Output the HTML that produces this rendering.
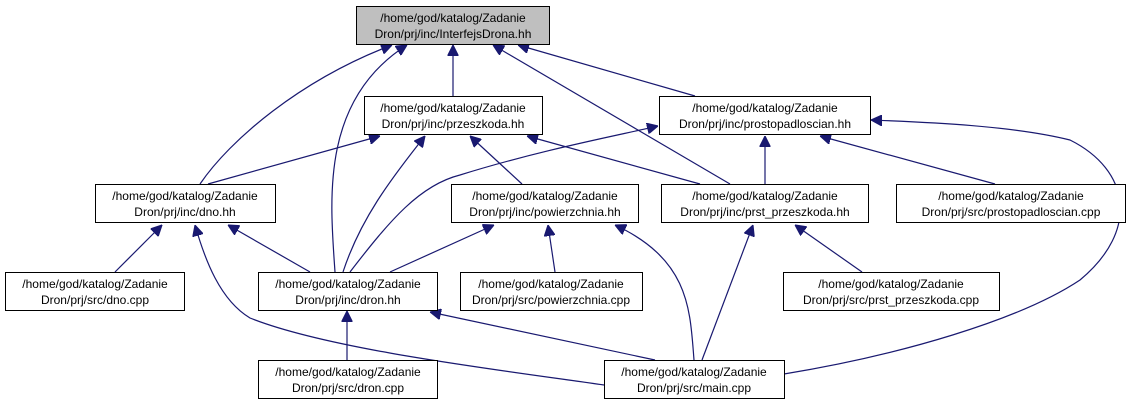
<!DOCTYPE html>
<html><head><meta charset="utf-8"><style>
html,body{margin:0;padding:0;background:#fff;}
svg{display:block;}
text{font-family:"Liberation Sans",sans-serif;font-size:12px;fill:#000;}
</style></head><body>
<svg width="1136" height="409" viewBox="0 0 1136 409" xmlns="http://www.w3.org/2000/svg">
<defs>
<marker id="a" viewBox="0 0 10 10" refX="10" refY="5" markerWidth="11" markerHeight="11" markerUnits="userSpaceOnUse" orient="auto">
<path d="M0,0 L10,5 L0,10 z" fill="#191970" stroke="#191970"/>
</marker>
</defs>
<g fill="none" stroke="#191970" stroke-width="1.2" marker-end="url(#a)">
<path d="M200,184 C230,140 300,80 392,45"/>
<path d="M335,272 C330,200 320,100 407,45"/>
<path d="M453,96 L453,45"/>
<path d="M730,184 L493,45"/>
<path d="M695,96 L518,45"/>
<path d="M208,184 L380,136"/>
<path d="M343,272 C360,220 390,180 425,136"/>
<path d="M522,184 L470,136"/>
<path d="M700,184 L527,136"/>
<path d="M350,272 C390,220 420,185 460,175 C540,150 620,135 658,126"/>
<path d="M765,184 L765,136"/>
<path d="M995,184 L820,136"/>
<path d="M784,374 C900,355 1020,320 1080,280 C1140,230 1130,170 1070,140 C1010,125 920,122 871,120"/>
<path d="M115,272 L162,225"/>
<path d="M310,272 L228,225"/>
<path d="M604,385 C500,370 330,350 250,318 C220,300 205,260 195,225"/>
<path d="M390,272 L494,225"/>
<path d="M555,272 L548,225"/>
<path d="M694,360 C690,310 690,260 615,225"/>
<path d="M862,272 L795,225"/>
<path d="M702,360 L753,225"/>
<path d="M347,360 L347,311"/>
<path d="M655,360 L430,312"/>
</g>
<g stroke="#000" stroke-width="1" fill="#fff">
<rect x="356.5" y="6.5" width="193" height="38" fill="#bfbfbf"/>
<rect x="364.5" y="96.5" width="178" height="38"/>
<rect x="659.5" y="96.5" width="211" height="38"/>
<rect x="95.5" y="184.5" width="180" height="38"/>
<rect x="451.5" y="184.5" width="187" height="38"/>
<rect x="661.5" y="184.5" width="207" height="38"/>
<rect x="896.5" y="184.5" width="229" height="38"/>
<rect x="5.5" y="272.5" width="179" height="38"/>
<rect x="258.5" y="272.5" width="179" height="38"/>
<rect x="460.5" y="272.5" width="182" height="38"/>
<rect x="783.5" y="272.5" width="216" height="38"/>
<rect x="258.5" y="360.5" width="179" height="38"/>
<rect x="604.5" y="360.5" width="180" height="38"/>
</g>
<g text-anchor="middle">
<text x="453" y="22">/home/god/katalog/Zadanie</text><text x="453" y="38">Dron/prj/inc/InterfejsDrona.hh</text>
<text x="453" y="112">/home/god/katalog/Zadanie</text><text x="453" y="128">Dron/prj/inc/przeszkoda.hh</text>
<text x="765" y="112">/home/god/katalog/Zadanie</text><text x="765" y="128">Dron/prj/inc/prostopadloscian.hh</text>
<text x="185" y="200">/home/god/katalog/Zadanie</text><text x="185" y="216">Dron/prj/inc/dno.hh</text>
<text x="545" y="200">/home/god/katalog/Zadanie</text><text x="545" y="216">Dron/prj/inc/powierzchnia.hh</text>
<text x="765" y="200">/home/god/katalog/Zadanie</text><text x="765" y="216">Dron/prj/inc/prst_przeszkoda.hh</text>
<text x="1011" y="200">/home/god/katalog/Zadanie</text><text x="1011" y="216">Dron/prj/src/prostopadloscian.cpp</text>
<text x="95" y="288">/home/god/katalog/Zadanie</text><text x="95" y="304">Dron/prj/src/dno.cpp</text>
<text x="348" y="288">/home/god/katalog/Zadanie</text><text x="348" y="304">Dron/prj/inc/dron.hh</text>
<text x="551" y="288">/home/god/katalog/Zadanie</text><text x="551" y="304">Dron/prj/src/powierzchnia.cpp</text>
<text x="891" y="288">/home/god/katalog/Zadanie</text><text x="891" y="304">Dron/prj/src/prst_przeszkoda.cpp</text>
<text x="348" y="376">/home/god/katalog/Zadanie</text><text x="348" y="392">Dron/prj/src/dron.cpp</text>
<text x="694" y="376">/home/god/katalog/Zadanie</text><text x="694" y="392">Dron/prj/src/main.cpp</text>
</g>
</svg>
</body></html>
